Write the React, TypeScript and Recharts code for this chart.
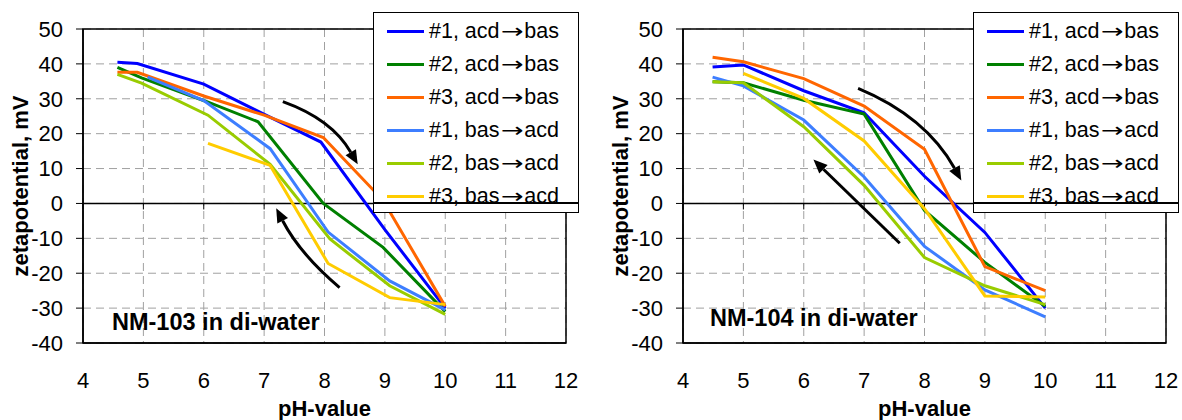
import React from "react";
import { LineChart, Line, XAxis, YAxis, CartesianGrid, ReferenceLine, ReferenceArea } from "recharts";

const FONT = '"Liberation Sans", Arial, sans-serif';

const seriesNames = [
  "#1, acd→bas",
  "#2, acd→bas",
  "#3, acd→bas",
  "#1, bas→acd",
  "#2, bas→acd",
  "#3, bas→acd",
];
const seriesColors = ["#0000FF", "#008000", "#FF6600", "#3D7EFF", "#99CC00", "#FFCC00"];

const phTicks = [4, 5, 6, 7, 8, 9, 10, 11, 12];
const zetaTicks = [-40, -30, -20, -10, 0, 10, 20, 30, 40, 50];

// NM-103, [pH, zeta mV]
const nm103Acd1 = [[4.57, 40.5], [4.9, 40.1], [6.0, 34.2], [6.97, 25.8], [7.94, 17.6], [9.0, -7.5], [10, -30]];
const nm103Acd2 = [[4.57, 39], [4.97, 36], [6.03, 29.3], [6.9, 23.4], [7.98, 0], [8.97, -12.6], [10, -31]];
const nm103Acd3 = [[4.57, 37.6], [4.9, 37.6], [6.0, 30.8], [7.0, 25.3], [7.98, 18.9], [8.97, 0.9], [10, -29.5]];
const nm103Bas1 = [[5.07, 36.2], [6.0, 29.5], [7.1, 15.7], [8.06, -8.2], [9.08, -22.2], [10, -30.5]];
const nm103Bas2 = [[4.57, 37], [4.97, 34.5], [6.07, 25.3], [7.1, 11.2], [8.09, -10.2], [9.08, -23.6], [10, -31.8]];
const nm103Bas3 = [[6.07, 17.2], [7.1, 10.9], [8.06, -17.2], [9.08, -27], [10, -29]];

// NM-104, [pH, zeta mV]
const nm104Acd1 = [[4.49, 39.1], [5, 39.7], [6, 32.3], [7, 26], [8, 7.8], [9, -8.3], [10, -30]];
const nm104Acd2 = [[4.49, 34.9], [5, 34.6], [6, 29.6], [7, 25.6], [8, -2], [9, -16.9], [10, -29.5]];
const nm104Acd3 = [[4.49, 41.9], [5, 40.6], [6, 35.8], [7, 27.9], [8, 15.5], [9, -18.1], [10, -25]];
const nm104Bas1 = [[4.49, 36.2], [5, 33.7], [6, 23.9], [7, 7.6], [8, -12.3], [9, -24.8], [10, -32.5]];
const nm104Bas2 = [[4.49, 34.9], [5, 34.6], [6, 22], [7, 5.2], [8, -15.5], [9, -23.6], [10, -29]];
const nm104Bas3 = [[5, 37.3], [6, 30.1], [7, 17.9], [8, -1.5], [9, -26.5], [10, -26.8]];

// direction arrows: from, to (pH, mV) and bend in px
const nm103Arrows = [
  { from: [7.31, 29.2], to: [8.55, 11.2], bend: 18 },
  { from: [8.25, -24.1], to: [7.2, -1.4], bend: 10 },
];
const nm104Arrows = [
  { from: [6.9, 33], to: [8.61, 6.6], bend: 24 },
  { from: [7.59, -11.4], to: [6.16, 12.6], bend: 0 },
];

const toPoints = (pairs: number[][]) => pairs.map(([ph, zeta]) => ({ ph, zeta }));

const arrowShape = (bend: number) => (p: any) => {
  const { x1, y1, x2, y2 } = p;
  const dx = x2 - x1;
  const dy = y2 - y1;
  const len = Math.hypot(dx, dy) || 1;
  const cx = (x1 + x2) / 2 + (dy / len) * bend;
  const cy = (y1 + y2) / 2 - (dx / len) * bend;
  const tx = x2 - cx;
  const ty = y2 - cy;
  const tl = Math.hypot(tx, ty) || 1;
  const ux = tx / tl;
  const uy = ty / tl;
  const head = 14;
  const half = 6;
  const bx = x2 - ux * head;
  const by = y2 - uy * head;
  return (
    <g>
      <path d={`M${x1},${y1} Q${cx},${cy} ${bx},${by}`} fill="none" stroke="#000" strokeWidth={3} />
      <polygon
        points={`${x2},${y2} ${bx - uy * half},${by + ux * half} ${bx + uy * half},${by - ux * half}`}
        fill="#000"
      />
    </g>
  );
};

const zeroAxis = (p: any) => {
  const { x1, x2, y1 } = p;
  const step = (x2 - x1) / (phTicks.length - 1);
  return (
    <g>
      <line x1={x1} x2={x2} y1={y1} y2={y1} stroke="#000" strokeWidth={1.5} />
      {phTicks.map((t, i) => (
        <line key={t} x1={x1 + i * step} x2={x1 + i * step} y1={y1} y2={y1 + 6} stroke="#000" strokeWidth={1} />
      ))}
    </g>
  );
};

const LegendName = ({ name }: { name: string }) => {
  const [a, b] = name.split("→");
  return (
    <span style={{ marginLeft: 5, whiteSpace: "nowrap" }}>
      {a}
      <span
        style={{
          display: "inline-block",
          fontFamily: '"DejaVu Sans", sans-serif',
          fontSize: 20,
          transform: "scaleX(1.35)",
          margin: "0 4px",
        }}
      >
        →
      </span>
      {b}
    </span>
  );
};

const ZetaPanel = ({
  left,
  width,
  title,
  titleTop,
  titleLeft,
  series,
  arrows,
}: {
  left: number;
  width: number;
  title: string;
  titleTop: number;
  titleLeft: number;
  series: number[][][];
  arrows: { from: number[]; to: number[]; bend: number }[];
}) => {
  return (
    <div style={{ position: "absolute", left, top: 0, width, height: 420 }}>
      <LineChart width={width} height={420} margin={{ top: 29, right: width - 566, bottom: 0, left: 0 }}>
        <CartesianGrid stroke="#a0a0a0" strokeDasharray="8 5" />
        <XAxis
          type="number"
          dataKey="ph"
          domain={[4, 12]}
          ticks={phTicks}
          allowDataOverflow
          height={77}
          axisLine={{ stroke: "#000", strokeWidth: 1.5 }}
          tickLine={false}
          tickSize={6}
          tickMargin={23}
          tick={{ fontSize: 22, fill: "#000", fontFamily: FONT }}
          label={(lp: any) => {
            const vb = lp.viewBox;
            return (
              <text
                x={vb.x + vb.width / 2}
                y={416}
                textAnchor="middle"
                fontSize={22}
                fontWeight="bold"
                fontFamily={FONT}
                fill="#000"
              >
                pH-value
              </text>
            );
          }}
        />
        <YAxis
          type="number"
          domain={[-40, 50]}
          ticks={zetaTicks}
          allowDataOverflow
          width={83}
          axisLine={{ stroke: "#000", strokeWidth: 1.5 }}
          tickLine={{ stroke: "#000" }}
          tickSize={7}
          tickMargin={13}
          tick={{ fontSize: 22, fill: "#000", fontFamily: FONT }}
          label={(lp: any) => {
            const vb = lp.viewBox;
            const cy = vb.y + vb.height / 2;
            return (
              <text
                x={28}
                y={cy}
                transform={`rotate(-90 28 ${cy})`}
                textAnchor="middle"
                fontSize={22}
                fontWeight="bold"
                fontFamily={FONT}
                fill="#000"
              >
                zetapotential, mV
              </text>
            );
          }}
        />
        <ReferenceArea x1={4} x2={12} y1={-40} y2={50} fill="none" fillOpacity={0} stroke="#000" strokeWidth={1.5} />
        <ReferenceLine y={0} shape={zeroAxis} />
        {series.map((pairs, i) => (
          <Line
            key={seriesNames[i]}
            data={toPoints(pairs)}
            dataKey="zeta"
            name={seriesNames[i]}
            type="linear"
            stroke={seriesColors[i]}
            strokeWidth={3}
            dot={false}
            activeDot={false}
            isAnimationActive={false}
          />
        ))}
        {arrows.map((a, i) => (
          <ReferenceLine
            key={`arrow-${i}`}
            segment={[
              { x: a.from[0], y: a.from[1] },
              { x: a.to[0], y: a.to[1] },
            ]}
            shape={arrowShape(a.bend)}
          />
        ))}
      </LineChart>

      <div
        style={{
          position: "absolute",
          left: 373,
          top: 12,
          width: 206,
          height: 201,
          boxSizing: "border-box",
          border: "1.5px solid #000",
          background: "#fff",
          paddingTop: 2,
          fontFamily: FONT,
          fontSize: 21.5,
          color: "#000",
        }}
      >
        {seriesNames.map((name, i) => (
          <div key={name} style={{ display: "flex", alignItems: "center", height: 33 }}>
            <span style={{ display: "inline-block", width: 37, height: 3, marginLeft: 13, background: seriesColors[i] }} />
            <LegendName name={name} />
          </div>
        ))}
        <div style={{ position: "absolute", left: 0, right: 0, top: 189, height: 1.5, background: "#000" }} />
      </div>

      <div
        style={{
          position: "absolute",
          left: titleLeft,
          top: titleTop,
          fontFamily: FONT,
          fontSize: 23.5,
          lineHeight: "24px",
          fontWeight: "bold",
          whiteSpace: "nowrap",
          color: "#000",
        }}
      >
        {title}
      </div>
    </div>
  );
};

export default function App() {
  return (
    <div
      style={{
        position: "absolute",
        left: 0,
        top: 0,
        width: 1182,
        height: 420,
        overflow: "hidden",
        background: "#fff",
      }}
    >
      <ZetaPanel
        left={0}
        width={600}
        title="NM-103 in di-water"
        titleLeft={112}
        titleTop={310}
        series={[nm103Acd1, nm103Acd2, nm103Acd3, nm103Bas1, nm103Bas2, nm103Bas3]}
        arrows={nm103Arrows}
      />
      <ZetaPanel
        left={600}
        width={582}
        title="NM-104 in di-water"
        titleLeft={110}
        titleTop={306}
        series={[nm104Acd1, nm104Acd2, nm104Acd3, nm104Bas1, nm104Bas2, nm104Bas3]}
        arrows={nm104Arrows}
      />
    </div>
  );
}
